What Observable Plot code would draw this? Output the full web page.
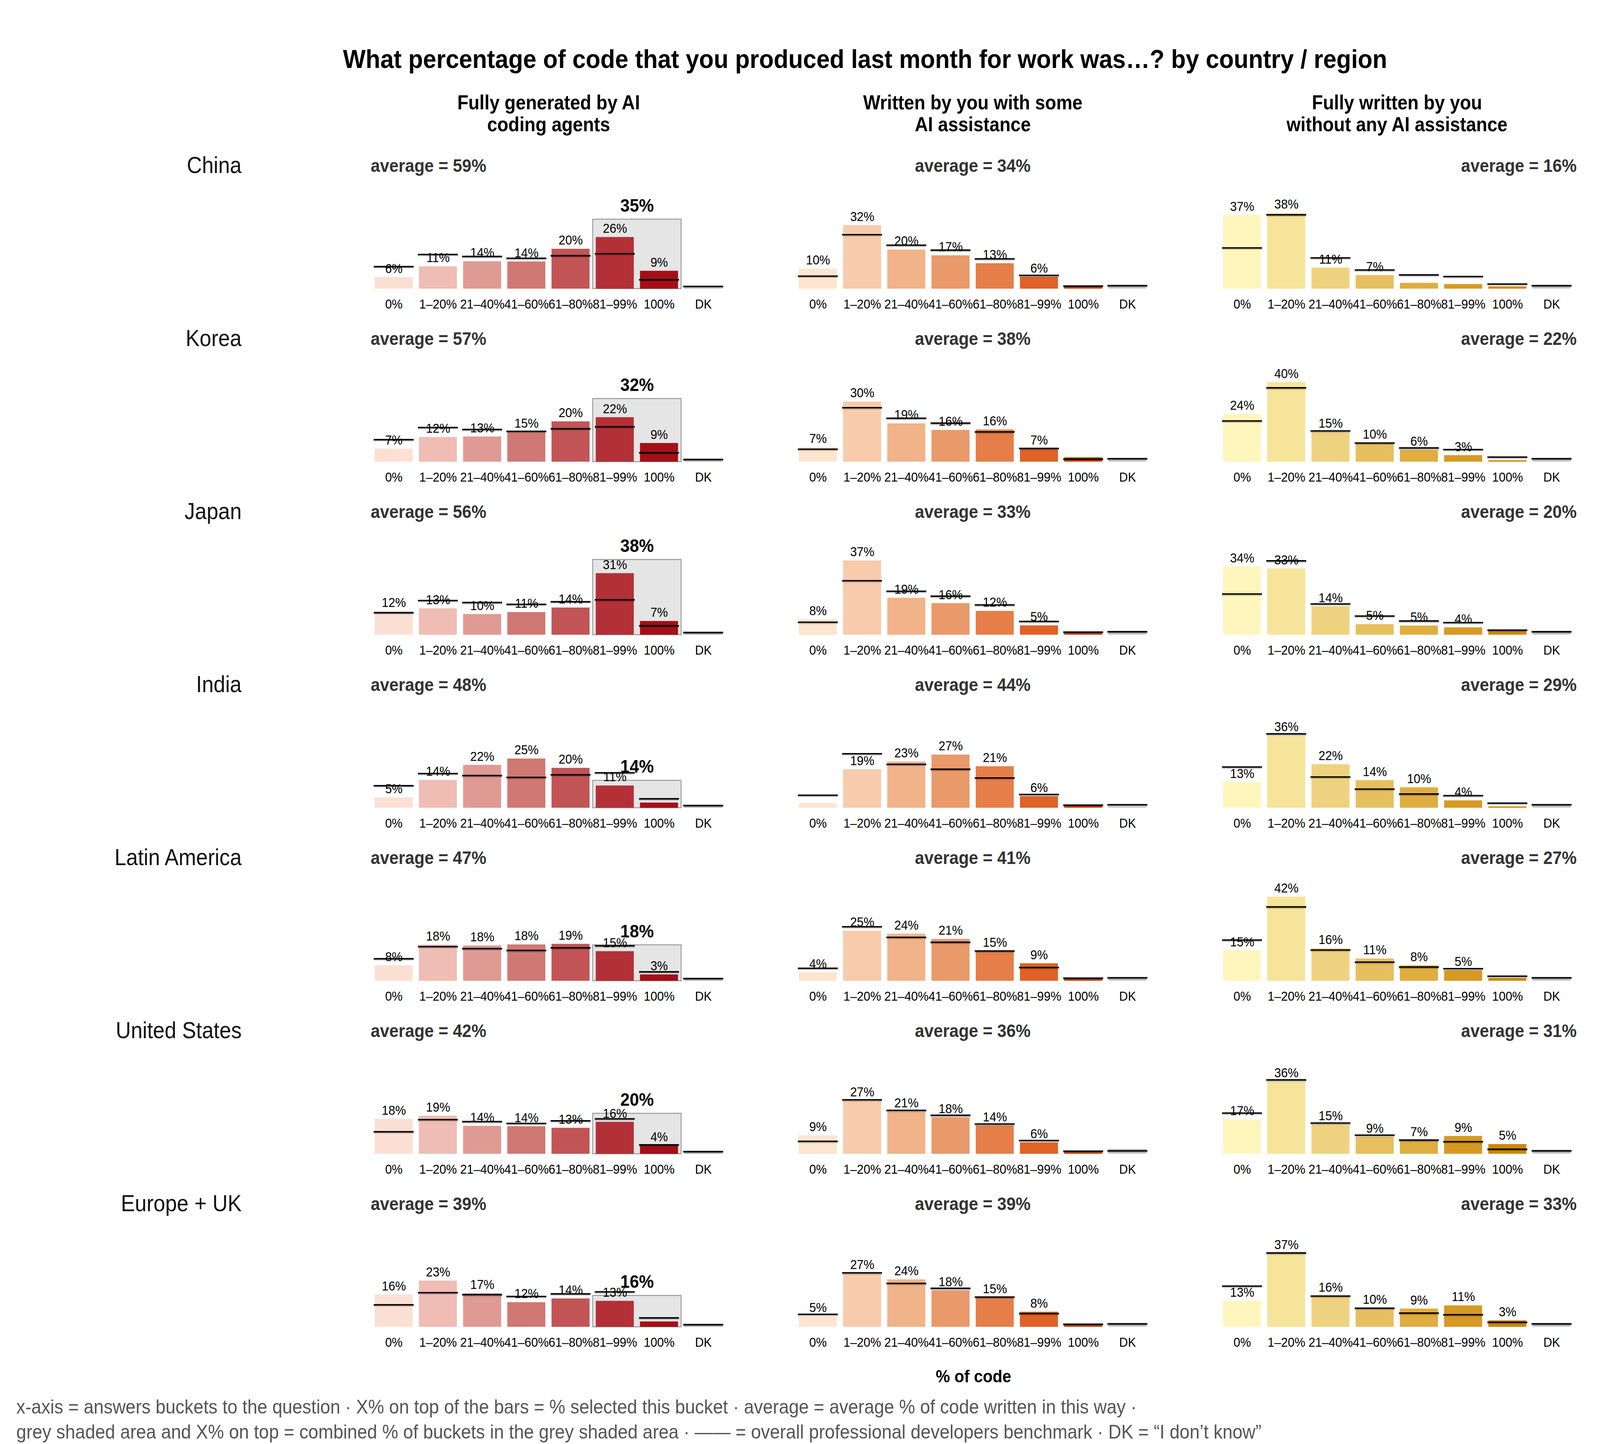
<!DOCTYPE html>
<html><head><meta charset="utf-8">
<script src="https://cdn.jsdelivr.net/npm/d3@7"></script>
<script src="https://cdn.jsdelivr.net/npm/@observablehq/plot@0.6"></script>
<style>
html,body{margin:0;padding:0;background:#fff;overflow:hidden;font-family:"Liberation Sans",Arial,Helvetica,sans-serif;}
#wrap{position:absolute;left:0;top:0;width:4500px;height:3697px;background:#fff;overflow:hidden;transform-origin:0 0;}
.abs{position:absolute;white-space:nowrap;}
#title{left:2433px;top:111px;transform:translateX(-50%);font-size:67.5px;font-weight:bold;line-height:80px;color:#000;}
#chart{left:0;top:200px;}
#xlabel{left:2738px;top:3496px;transform:translateX(-50%);font-size:45px;font-weight:bold;line-height:56px;color:#000;}
.cap{left:46px;font-size:50.5px;line-height:52px;color:#555;}
#cap1{top:3576px;}
#cap2{top:3640px;}
</style></head><body><div id="wrap">
<div class="abs" id="title">What percentage of code that you produced last month for work was…? by country / region</div>
<div class="abs" id="chart"></div>
<div class="abs" id="xlabel">% of code</div>
<div class="abs cap" id="cap1">x-axis = answers buckets to the question · X% on top of the bars = % selected this bucket · average = average % of code written in this way ·</div>
<div class="abs cap" id="cap2">grey shaded area and X% on top = combined % of buckets in the grey shaded area · —— = overall professional developers benchmark · DK = “I don’t know”</div>
</div>
<script>
// ---- data ----
const buckets = ["0%","1–20%","21–40%","41–60%","61–80%","81–99%","100%","DK"];
const countries = ["China","Korea","Japan","India","Latin America","United States","Europe + UK"];
const columns = ["Fully generated by AI\ncoding agents","Written by you with some\nAI assistance","Fully written by you\nwithout any AI assistance"];
const shadedBuckets = ["81–99%","100%"]; // grey shaded area (first column only)

// shares per country (rows follow `countries`), columns follow `buckets`
const sharesAgents = [
  [5.8, 11.2, 13.8, 13.7, 20.1, 26.0, 9.0, 0.3],
  [6.6, 12.4, 12.7, 15.1, 20.3, 22.4, 9.4, 0.9],
  [11.8, 13.3, 10.4, 11.4, 13.7, 31.0, 6.9, 1.5],
  [5.2, 14.0, 21.6, 24.8, 20.1, 11.2, 2.6, 0.8],
  [7.8, 18.2, 17.8, 18.3, 18.6, 14.9, 3.2, 0.9],
  [17.6, 19.2, 14.1, 13.9, 13.1, 16.1, 4.3, 0.8],
  [16.3, 23.3, 16.9, 12.4, 14.3, 13.1, 2.7, 0.9]
];
const sharesAssist = [
  [10.1, 32.0, 19.7, 16.8, 12.8, 6.0, 1.0, 1.0],
  [7.4, 30.3, 19.3, 16.0, 16.2, 6.6, 2.2, 1.1],
  [7.8, 37.4, 18.6, 15.9, 12.0, 4.7, 1.2, 2.0],
  [2.3, 19.4, 23.3, 26.8, 20.9, 5.8, 1.1, 0.7],
  [4.3, 25.2, 23.7, 21.1, 15.1, 8.8, 1.1, 1.0],
  [9.3, 26.9, 21.4, 18.4, 14.3, 5.7, 0.9, 2.5],
  [5.3, 27.1, 23.9, 18.4, 14.9, 7.6, 1.0, 1.2]
];
const sharesNoAI = [
  [37.1, 38.2, 10.6, 6.8, 2.9, 2.3, 1.1, 1.0],
  [24.1, 40.1, 15.0, 9.6, 6.0, 3.3, 0.7, 1.1],
  [34.4, 33.4, 14.3, 5.3, 4.6, 3.7, 2.0, 2.0],
  [12.9, 36.4, 21.9, 13.9, 10.3, 3.7, 0.7, 0.9],
  [15.3, 42.4, 16.4, 11.2, 7.8, 5.3, 1.4, 1.0],
  [17.3, 36.4, 14.9, 8.6, 6.8, 9.0, 4.9, 2.0],
  [13.1, 37.1, 15.6, 9.6, 9.2, 10.8, 3.3, 1.2]
];
// overall professional developers benchmark
const benchAgents = [11.2, 17.3, 16.3, 15.4, 16.7, 17.7, 4.6, 1.2];
const benchAssist = [6.4, 27.3, 22.0, 19.5, 15.1, 6.8, 1.4, 1.6];
const benchNoAI = [20.6, 37.3, 15.6, 9.5, 7.0, 6.2, 2.4, 1.6];
// averages
const avgAgents = [59, 57, 56, 48, 47, 42, 39];
const avgAssist = [34, 38, 33, 44, 41, 36, 39];
const avgNoAI = [16, 22, 20, 29, 27, 31, 33];
// palettes
const colorsAgents = ["#fde0d4","#efbdb3","#e09a94","#d07873","#c25456","#b33037","#a50f17","#cccccc"];
const colorsAssist = ["#fde5cf","#f7cbac","#f0b38a","#ea996b","#e57e48","#df6226","#d94701","#cccccc"];
const colorsNoAI = ["#fff6be","#f6e49a","#efd27f","#e6c05f","#dfad40","#d69a23","#cf8807","#cccccc"];

// ---- build tables ----
const shares = [sharesAgents, sharesAssist, sharesNoAI];
const benches = [benchAgents, benchAssist, benchNoAI];
const avgs = [avgAgents, avgAssist, avgNoAI];
const palettes = [colorsAgents, colorsAssist, colorsNoAI];

const rows = [], benchRows = [], avgRows = [];
columns.forEach((col, c) => {
  countries.forEach((country, k) => {
    buckets.forEach((b, i) => {
      rows.push({col, country, i, bucket: b, value: shares[c][k][i], color: palettes[c][i]});
      benchRows.push({col, country, i, value: benches[c][i]});
    });
    avgRows.push({col, c, country, text: `average = ${avgs[c][k]}%`});
  });
});
const s0 = buckets.indexOf(shadedBuckets[0]);
const s1 = buckets.indexOf(shadedBuckets[shadedBuckets.length - 1]);
const boxRows = countries.map((country, k) => ({
  col: columns[0], country,
  sum: shadedBuckets.reduce((a, b) => a + sharesAgents[k][buckets.indexOf(b)], 0)
}));

const F = "Liberation Sans, Arial, Helvetica, sans-serif";
const fac = {fx: "col", fy: "country"};

const chart = Plot.plot({
  width: 4500, height: 3271,
  marginTop: 197, marginLeft: 1045, marginRight: 74, marginBottom: 70,
  style: {fontFamily: F, background: "transparent", overflow: "visible"},
  x: {domain: [-0.5, buckets.length - 0.5], axis: null},
  y: {domain: [0, 66.7], axis: null},
  fx: {domain: columns, paddingInner: 0.166, paddingOuter: 0, axis: null},
  fy: {domain: countries, paddingInner: 0.234, paddingOuter: 0, axis: null},
  color: {type: "identity"},
  marks: [
    // grey shaded area
    Plot.rectY(boxRows, {...fac, x1: () => s0 - 0.5, x2: () => s1 + 0.5, y1: 0, y2: "sum",
      fill: "#e5e5e5", stroke: "#9a9a9a", strokeWidth: 2.5}),
    // bars
    Plot.rectY(rows, {...fac, x1: d => d.i - 0.5, x2: d => d.i + 0.5, y1: 0, y2: "value",
      fill: "color", insetLeft: 8.7, insetRight: 8.7}),
    // benchmark lines (soft shadow + line)
    Plot.ruleY(benchRows, {...fac, x1: d => d.i - 0.5, x2: d => d.i + 0.5, y: "value",
      stroke: "#000", strokeOpacity: 0.25, strokeWidth: 3, dy: 3, insetLeft: 6, insetRight: 6}),
    Plot.ruleY(benchRows, {...fac, x1: d => d.i - 0.5, x2: d => d.i + 0.5, y: "value",
      stroke: "#000", strokeWidth: 3.6, insetLeft: 6, insetRight: 6}),
    // value labels
    Plot.text(rows.filter(d => d.value >= 3 && d.bucket !== "DK"), {...fac, x: "i", y: "value",
      text: d => `${Math.round(d.value)}%`, lineAnchor: "middle", dy: -22, fontSize: 34, fill: "#000"}),
    // combined label for shaded area
    Plot.text(boxRows, {...fac, x: () => (s0 + s1) / 2, y: "sum", text: d => `${Math.round(d.sum)}%`,
      lineAnchor: "middle", dy: -35, fontSize: 47, fontWeight: "bold", fill: "#000"}),
    // averages
    Plot.text(avgRows.filter(d => d.c === 0), {...fac, text: "text", frameAnchor: "top-left", textAnchor: "start",
      lineAnchor: "middle", dx: -3, dy: 24, fontSize: 47, fontWeight: "bold", fill: "#333"}),
    Plot.text(avgRows.filter(d => d.c === 1), {...fac, text: "text", frameAnchor: "top", textAnchor: "middle",
      lineAnchor: "middle", dy: 24, fontSize: 47, fontWeight: "bold", fill: "#333"}),
    Plot.text(avgRows.filter(d => d.c === 2), {...fac, text: "text", frameAnchor: "top-right", textAnchor: "end",
      lineAnchor: "middle", dx: 8, dy: 24, fontSize: 47, fontWeight: "bold", fill: "#333"}),
    // country labels
    Plot.text(countries, {fx: () => columns[0], fy: d => d, text: d => d, frameAnchor: "top-left",
      textAnchor: "end", lineAnchor: "middle", dx: -366, dy: 24, fontSize: 59, fill: "#111"}),
    // bucket axis in every panel
    Plot.axisX({facetAnchor: null, ticks: d3.range(buckets.length), tickFormat: i => buckets[i],
      tickSize: 0, tickPadding: 26, fontSize: 34, label: null, fill: "#000"}),
    // column headers
    Plot.axisFx({anchor: "top", tickSize: 0, tickPadding: 65, fontSize: 51, fontWeight: "bold",
      lineHeight: 1.08, label: null, fill: "#000"})
  ]
});
document.getElementById("chart").appendChild(chart);

// stretch the 4500×3697 design over the whole viewport
function fit() {
  const W = window.innerWidth, H = window.innerHeight;
  document.documentElement.style.height = H + "px";
  document.body.style.height = H + "px";
  document.getElementById("wrap").style.transform = `scale(${W / 4500}, ${H / 3697})`;
}
fit();
window.addEventListener("resize", fit);
</script>
</body></html>
